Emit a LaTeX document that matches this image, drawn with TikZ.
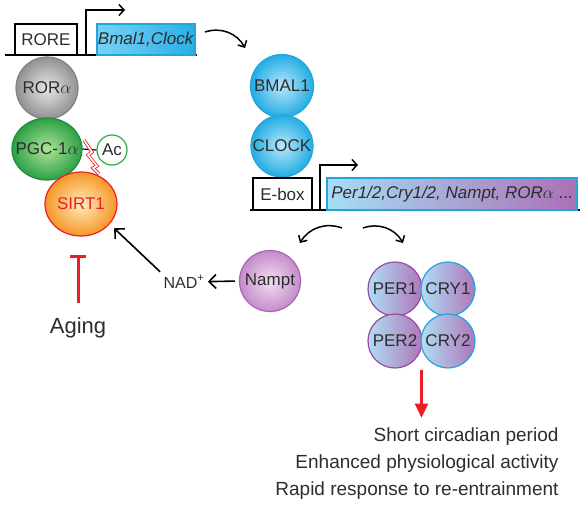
\documentclass[tikz,border=0pt]{standalone}
\usepackage{fontspec}
\setmainfont{Liberation Sans}
\usetikzlibrary{arrows.meta,shapes.geometric,calc}

\definecolor{txtgray}{RGB}{45,45,45}
\definecolor{sirtred}{RGB}{235,30,40}
\definecolor{cyanedge}{RGB}{35,165,220}
\definecolor{purpedge}{RGB}{150,75,160}
\def\inball#1{\makebox[0pt]{#1}}

\tikzset{
	lbl/.style={font=\fontsize{17}{20}\selectfont, text=txtgray},
	genebox/.style={lbl, draw=black, line width=1.5pt, minimum height=31pt, inner sep=0pt},
	ballbase/.style={lbl, circle, draw, line width=1.2pt, inner sep=0pt},
	ball/.style={ballbase, shading=radial},
	dnaline/.style={line width=2pt},
	promoter/.style={line width=1.5pt, -{Straight Barb[length=5pt,width=11pt]}},
	bendarrow/.style={line width=1.5pt, -{Straight Barb[length=5pt,width=10pt]}},
	blackarrow/.style={line width=1.6pt, -{Straight Barb[length=7pt,width=14pt]}},
}

\begin{document}
\begin{tikzpicture}[x=1pt, y=-1pt]
		%%%%% START %%%%%
		\useasboundingbox (0,0) rectangle (584,504);
		
		% RORE promoter
		\draw[dnaline] (5,55) -- (197,55);
		\node[genebox, minimum width=62pt, fill=white] (rore) at (46,39.5) {RORE};
		\node[genebox, minimum width=98pt, draw=cyanedge, left color={rgb,255:red,120;green,210;blue,245}, right color={rgb,255:red,40;green,175;blue,230}] (bmalgene) at (146,39.5) {\textit{Bmal1,Clock}};
		\draw[promoter] (86,55) |- (125,10);
		
		\coordinate (bmalfrom) at (205,32);
		\coordinate (bmalto) at (245,48);
		\draw[bendarrow] (bmalfrom) to[bend left=40] (bmalto);
		
		% ROR alpha / PGC-1 alpha / SIRT1
		\node[ball, minimum size=62pt, draw={rgb,255:red,130;green,130;blue,130}, inner color={rgb,255:red,232;green,232;blue,232}, outer color={rgb,255:red,145;green,145;blue,145}] (rora) at (47,88) {\inball{ROR$\alpha$}};
		\node[ball, ellipse, minimum width=70pt, minimum height=62pt, draw={rgb,255:red,30;green,140;blue,60}, inner color={rgb,255:red,175;green,228;blue,150}, outer color={rgb,255:red,45;green,160;blue,70}] (pgc) at (47,149) {\inball{PGC-1$\alpha$}};
		\node[ballbase, minimum size=30pt, draw={rgb,255:red,50;green,170;blue,70}, fill=white] (ac) at (112,150) {\inball{Ac}};
		\draw[line width=1.2pt] (pgc.east) -- (ac.west);
		\node[ball, ellipse, minimum width=72pt, minimum height=64pt, draw=sirtred, text=sirtred, inner color={rgb,255:red,255;green,238;blue,185}, outer color={rgb,255:red,246;green,150;blue,40}] (sirt) at (81,204) {\inball{SIRT1}};
		\draw[draw=sirtred, double=white, double distance=1.6pt, line width=0.8pt] (84,140) -- (92,152) -- (88,155) -- (97,166) -- (93,168) -- (99,174);
		
		% NAD+ and aging
		\node[lbl, font=\fontsize{16}{19}\selectfont, anchor=base] (nad) at (184,288) {NAD\textsuperscript{+}};
		\draw[blackarrow, shorten >=6pt] (nad.north west) -- (sirt.-35);
		
		\node[lbl, font=\fontsize{22}{26}\selectfont, anchor=base] (aging) at (78,333) {Aging};
		\coordinate (agebar) at (78,255);
		\draw[sirtred, line width=3pt, shorten <=11pt, -{Bar[width=16pt]}] (aging.north) -- (agebar);
		
		% E-box promoter
		\node[ball, minimum size=63pt, draw=cyanedge, inner color={rgb,255:red,185;green,232;blue,250}, outer color={rgb,255:red,35;green,172;blue,228}] (bmal) at (282,86) {\inball{BMAL1}};
		\node[ball, minimum size=62pt, draw=cyanedge, inner color={rgb,255:red,185;green,232;blue,250}, outer color={rgb,255:red,35;green,172;blue,228}] (clock) at (282,146) {\inball{CLOCK}};
		
		\draw[dnaline] (250,210) -- (580,210);
		\node[genebox, minimum width=59pt, minimum height=32pt, fill=white] (ebox) at (282.5,194) {E-box};
		\node[genebox, minimum width=250pt, minimum height=32pt, draw=cyanedge, left color={rgb,255:red,165;green,222;blue,245}, right color={rgb,255:red,172;green,112;blue,182}] (ccgenes) at (452,194) {\textit{Per1/2,Cry1/2, Nampt, ROR}$\alpha$ ...};
		\draw[promoter] (320,210) |- (358,165);
		
		\coordinate (namptfrom) at (342,228);
		\coordinate (namptto) at (300,243);
		\draw[bendarrow] (namptfrom) to[bend right=40] (namptto);
		\coordinate (perfrom) at (363,228);
		\coordinate (perto) at (403,243);
		\draw[bendarrow] (perfrom) to[bend left=40] (perto);
		
		% Nampt
		\node[ball, minimum size=61pt, draw={rgb,255:red,170;green,100;blue,180}, inner color={rgb,255:red,242;green,222;blue,242}, outer color={rgb,255:red,196;green,140;blue,202}] (nampt) at (270,281) {\inball{Nampt}};
		\draw[blackarrow, shorten <=4pt] (nampt.west) -- (nad.east);
		
		% PER / CRY
		\node[ballbase, minimum size=54pt, draw=purpedge, left color={rgb,255:red,175;green,222;blue,245}, right color={rgb,255:red,175;green,118;blue,186}] (per1) at (395,289) {\inball{PER1}};
		\node[ballbase, minimum size=54pt, draw=cyanedge, left color={rgb,255:red,175;green,222;blue,245}, right color={rgb,255:red,175;green,118;blue,186}] (cry1) at (448,289) {\inball{CRY1}};
		\node[ballbase, minimum size=54pt, draw=purpedge, left color={rgb,255:red,175;green,222;blue,245}, right color={rgb,255:red,175;green,118;blue,186}] (per2) at (395,341) {\inball{PER2}};
		\node[ballbase, minimum size=54pt, draw=cyanedge, left color={rgb,255:red,175;green,222;blue,245}, right color={rgb,255:red,175;green,118;blue,186}] (cry2) at (448,341) {\inball{CRY2}};
		
		% outcome
		\node[lbl, font=\fontsize{19}{22}\selectfont, anchor=base east] (period) at (562,441) {Short circadian period};
		\node[lbl, font=\fontsize{19}{22}\selectfont, anchor=base east] (activity) at (562,468) {Enhanced physiological activity};
		\node[lbl, font=\fontsize{19}{22}\selectfont, anchor=base east] (reentrain) at (562,495) {Rapid response to re-entrainment};
		\coordinate (percry) at ($(per2.south)!0.5!(cry2.south)$);
		\draw[sirtred, line width=2.5pt, shorten <=1pt, shorten >=6pt, -{Triangle[length=14pt,width=13pt]}] (percry) -- (percry |- period.north);
		%%%%% END %%%%%
\end{tikzpicture}
\end{document}
